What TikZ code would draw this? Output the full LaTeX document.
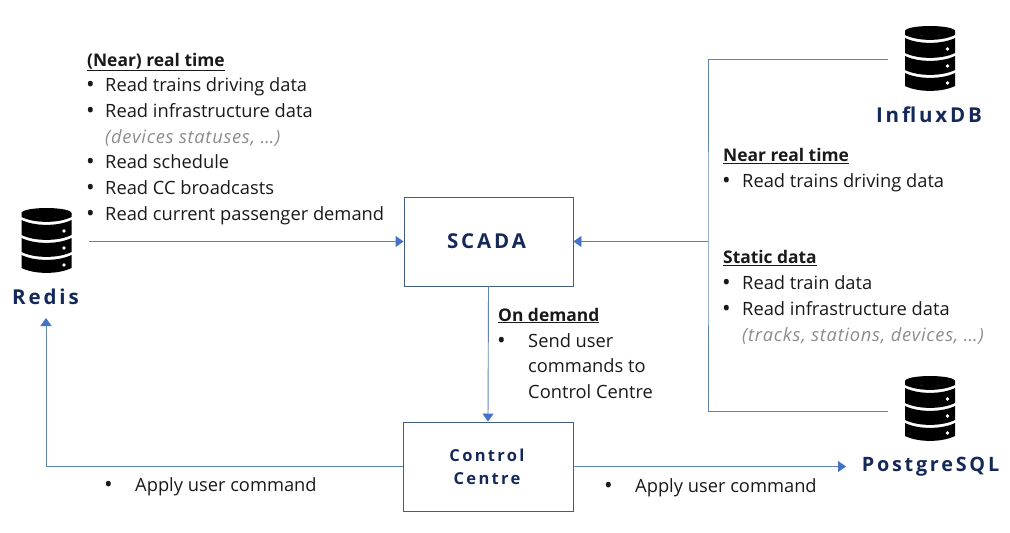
\documentclass[tikz,border=0pt]{standalone}
\usepackage{fontspec}
\setmainfont{Open Sans}
\newfontfamily\spacedfont[LetterSpace=14]{Open Sans}
\newfontfamily\notefont[LetterSpace=4]{Open Sans}
\usepackage{tikz}
\usetikzlibrary{arrows.meta,calc,positioning}
\definecolor{boxline}{HTML}{3F5E85}
\definecolor{linkline}{HTML}{5F82B0}
\definecolor{tipblue}{HTML}{4472C4}
\definecolor{navy}{HTML}{14295A}
\definecolor{noteGray}{HTML}{8C8C8C}
\tikzstyle{block}  =[rectangle, draw=boxline, line width=0.9pt, inner sep=0pt,
                    minimum width=169pt, minimum height=89pt]
\tikzstyle{link}   =[draw=linkline, line width=0.9pt,
                    -{Triangle[length=8pt, width=11pt, color=tipblue]}]
\tikzstyle{wire}   =[draw=linkline, line width=0.9pt]
\tikzstyle{dbname} =[inner sep=0pt, text=navy, font=\fontsize{20.5}{24}\selectfont\spacedfont\bfseries]
\tikzstyle{txt}    =[inner sep=0pt, anchor=base west, text=black!90, font=\fontsize{18.3}{20}\selectfont]
\tikzstyle{note}   =[txt, text=noteGray, font=\fontsize{18.3}{20}\selectfont\notefont\itshape]
\tikzstyle{head}   =[txt, font=\fontsize{17.4}{20}\selectfont\bfseries]
\tikzstyle{dot}    =[txt, yshift=-1pt, font=\fontsize{23}{20}\selectfont]
\newcommand{\dbband}[2]{%
    \fill[black] (-25,#1) .. controls (-12,#1+6.5) and (12,#1+6.5) .. (25,#1) -- (25,#2)
        .. controls (12,#2+6.5) and (-12,#2+6.5) .. (-25,#2) -- cycle;}
\tikzset{
    database/.pic={
        \fill[black] (0,-28) ellipse[x radius=25, y radius=5];
        \dbband{-28}{-24}
        \dbband{-21}{-6}
        \dbband{-3}{11}
        \dbband{14}{27}
        \foreach \dy in {-10,7,24}
            \fill[white] (17.5,\dy) circle[radius=1.8];
    }
}
\begin{document}
\begin{tikzpicture}[x=1pt, y=-1pt]
    \useasboundingbox (0,0) rectangle (1010,533);

    \node (scada) [block] at (488.5,241.5) {};
    \node (scadaname) [dbname] at (486.5,241) {SCADA};
    \node (control) [block, minimum width=170pt] at (488,466.5) {};
    \node (controlname) [dbname, font=\fontsize{16.5}{23}\selectfont\spacedfont\bfseries, align=center] at (487,466.5) {Control\\Centre};

    \pic at (46.5,241) {database};
    \pic at (930,59) {database};
    \pic at (930,409) {database};
    \node (redis) [dbname] at (45.5,297) {Redis};
    \node (influx) [dbname] at (929,115) {InfluxDB};
    \node (postgres) [dbname, font=\fontsize{19.8}{24}\selectfont\spacedfont\bfseries] at (930.5,467) {PostgreSQL};

    \coordinate (redisout) at (89,241.5);
    \coordinate (redisin) at (46,318);
    \coordinate (junction) at (708,241.5);
    \coordinate (influxin) at (888,59);
    \coordinate (postgresin) at (888,411);
    \coordinate (postgresarrow) at (846,466.5);

    \draw[link] (redisout) -- (scada.west);
    \draw[link] (junction) -- (scada.east);
    \draw[wire] (influxin) -| (junction) |- (postgresin);
    \draw[link] (scada.south) -- (control.north);
    \draw[link] (control.west) -| (redisin);
    \draw[link] (control.east) -- (postgresarrow);

    % top left
    \node (neartitle) [head] at (87,66) {\underline{(Near) real time}};
    \foreach \i/\ypos/\linetext in {a/91/Read trains driving data, b/117/Read infrastructure data,
            c/168/Read schedule, d/194/Read CC broadcasts, e/220/Read current passenger demand} {
        \node (bullet\i) [dot] at (86,\ypos) {•};
        \node (line\i) [txt] at (105,\ypos) {\linetext};
    }
    \node (devices) [note] at (105,143) {(devices statuses, …)};

    % right
    \node (nrttitle) [head] at (723,161.5) {\underline{Near real time}};
    \node (nrtbullet) [dot] at (722,187.5) {•};
    \node (nrtline) [txt] at (742,187.5) {Read trains driving data};
    \node (statictitle) [head] at (723,263.5) {\underline{Static data}};
    \node (staticbulleta) [dot] at (722,289.5) {•};
    \node (staticlinea) [txt] at (742,289.5) {Read train data};
    \node (staticbulletb) [dot] at (722,315) {•};
    \node (staticlineb) [txt] at (742,315) {Read infrastructure data};
    \node (tracks) [note] at (742,341) {(tracks, stations, devices, …)};

    % on demand
    \node (demandtitle) [head] at (498,321) {\underline{On demand}};
    \node (demandbullet) [dot] at (497,347) {•};
    \node (demanda) [txt] at (528,347) {Send user};
    \node (demandb) [txt] at (528,372) {commands to};
    \node (demandc) [txt] at (528,398) {Control Centre};

    % bottom
    \node (applybulleta) [dot] at (104,491) {•};
    \node (applya) [txt] at (135,491) {Apply user command};
    \node (applybulletb) [dot] at (604,492) {•};
    \node (applyb) [txt] at (635,492) {Apply user command};
\end{tikzpicture}
\end{document}
